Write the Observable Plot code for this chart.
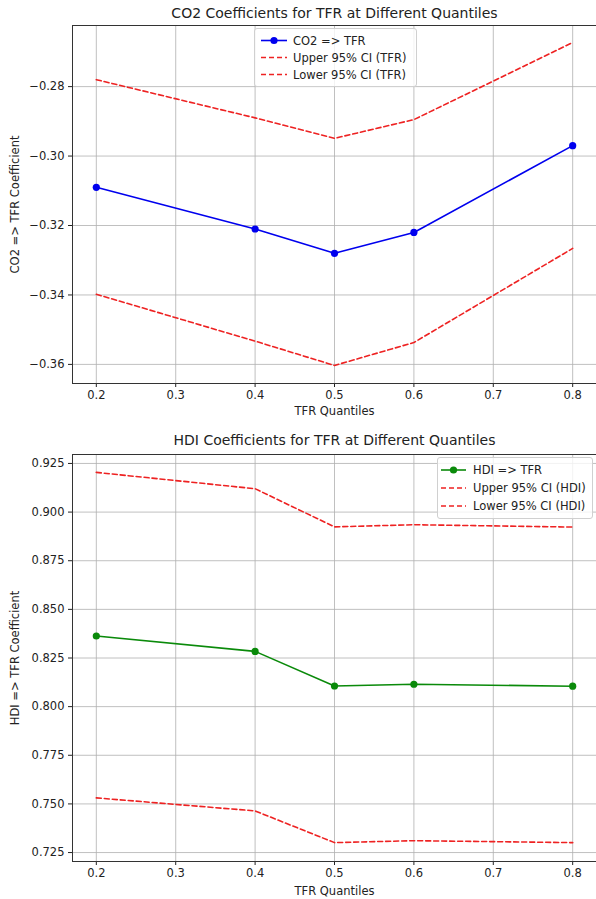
<!DOCTYPE html>
<html>
<head>
<meta charset="utf-8">
<script src="https://cdn.jsdelivr.net/npm/d3@7"></script>
<script src="https://cdn.jsdelivr.net/npm/@observablehq/plot@0.6"></script>
<style>
  html, body { margin: 0; padding: 0; background: #fff; overflow: hidden; }
  #wrap { position: relative; width: 596px; height: 899px; overflow: hidden; font-family: "DejaVu Sans", sans-serif; }
  .panel { position: absolute; left: 0; }
  .legend { position: absolute; box-sizing: border-box; border: 1px solid #d0d0d0; border-radius: 3px;
            background: rgba(255,255,255,0.8); font-size: 11.5px; color: #222; }
  .legend .row { display: flex; align-items: center; white-space: nowrap; }
  .legend svg { flex: none; }
</style>
</head>
<body>
<div id="wrap"></div>
<script>
// ---- data ----
const quantiles = [0.2, 0.4, 0.5, 0.6, 0.8];
const xTicks = [0.2, 0.3, 0.4, 0.5, 0.6, 0.7, 0.8];

const co2Coef  = [-0.309, -0.321, -0.328, -0.322, -0.297];
const co2Upper = [-0.278, -0.289, -0.2949, -0.2895, -0.2673];
const co2Lower = [-0.3398, -0.3533, -0.3603, -0.3537, -0.3266];
const co2Ticks = [-0.36, -0.34, -0.32, -0.30, -0.28];

const hdiCoef  = [0.8363, 0.8284, 0.8106, 0.8115, 0.8105];
const hdiUpper = [0.9204, 0.9120, 0.8924, 0.8935, 0.8923];
const hdiLower = [0.7531, 0.7464, 0.7301, 0.7311, 0.7301];
const hdiTicks = [0.725, 0.750, 0.775, 0.800, 0.825, 0.850, 0.875, 0.900, 0.925];

const co2Title = "CO2 Coefficients for TFR at Different Quantiles";
const hdiTitle = "HDI Coefficients for TFR at Different Quantiles";
const xLabel = "TFR Quantiles";
const co2YLabel = "CO2 => TFR Coefficient";
const hdiYLabel = "HDI => TFR Coefficient";
const co2Legend = ["CO2 => TFR", "Upper 95% CI (TFR)", "Lower 95% CI (TFR)"];
const hdiLegend = ["HDI => TFR", "Upper 95% CI (HDI)", "Lower 95% CI (HDI)"];

const xDomain = [0.17, 0.83];
const rows = vals => quantiles.map((q, i) => ({q, v: vals[i]}));

function panel({coef, upper, lower, ticks, fmt, domain, color, title, yLabel, height, marginTop, marginBottom, titleDy, xLabelDy}) {
  const grid = {stroke: "#b0b0b0", strokeOpacity: 1, strokeWidth: 0.8};
  const edge = {stroke: "#333", strokeWidth: 1};
  return Plot.plot({
    width: 596, height, marginLeft: 72, marginRight: 0, marginTop, marginBottom,
    style: {fontFamily: "DejaVu Sans", fontSize: "11.5px", color: "#222", background: "white", overflow: "visible"},
    x: {domain: xDomain, ticks: xTicks, tickFormat: d3.format(".1f"), tickSize: 4, tickPadding: 3, label: null},
    y: {domain, ticks, tickFormat: d3.format(fmt), tickSize: 4, tickPadding: 4, label: null},
    marks: [
      Plot.gridX(xTicks, grid),
      Plot.gridY(ticks, grid),
      Plot.line(rows(upper), {x: "q", y: "v", stroke: "#ee2222", strokeWidth: 1.6, strokeDasharray: "5,3"}),
      Plot.line(rows(lower), {x: "q", y: "v", stroke: "#ee2222", strokeWidth: 1.6, strokeDasharray: "5,3"}),
      Plot.line(rows(coef), {x: "q", y: "v", stroke: color, strokeWidth: 1.6}),
      Plot.dot(rows(coef), {x: "q", y: "v", r: 3.6, fill: color}),
      Plot.ruleX([xDomain[0]], edge),
      Plot.ruleY(domain, edge),
      Plot.text([title], {frameAnchor: "top", lineAnchor: "middle", textAnchor: "middle", dy: titleDy, fontSize: 14, fill: "#222"}),
      Plot.text([xLabel], {frameAnchor: "bottom", lineAnchor: "middle", textAnchor: "middle", dx: 0, dy: xLabelDy, fill: "#222"}),
      Plot.text([yLabel], {frameAnchor: "left", lineAnchor: "middle", textAnchor: "middle", dx: -57, rotate: -90, fill: "#222"})
    ]
  });
}

const wrap = document.getElementById("wrap");

const p1 = panel({coef: co2Coef, upper: co2Upper, lower: co2Lower, ticks: co2Ticks, fmt: ".2f",
  domain: [-0.3655, -0.2624], color: "#0000ee", title: co2Title, yLabel: co2YLabel,
  height: 430, marginTop: 25, marginBottom: 47, titleDy: -12, xLabelDy: 28});
p1.classList.add("panel"); p1.style.top = "0px";
wrap.appendChild(p1);

const p2 = panel({coef: hdiCoef, upper: hdiUpper, lower: hdiLower, ticks: hdiTicks, fmt: ".3f",
  domain: [0.7204, 0.9296], color: "#0a8a0a", title: hdiTitle, yLabel: hdiYLabel,
  height: 469, marginTop: 24, marginBottom: 38, titleDy: -14, xLabelDy: 30});
p2.classList.add("panel"); p2.style.top = "430px";
wrap.appendChild(p2);

function legend(labels, color, {left, top, width, rowH, lineX0, lineX1, textX}) {
  const box = document.createElement("div");
  box.className = "legend";
  Object.assign(box.style, {left: left + "px", top: top + "px", width: width + "px", paddingTop: "3px", paddingBottom: "3px"});
  labels.forEach((lab, i) => {
    const row = document.createElement("div");
    row.className = "row";
    row.style.height = rowH + "px";
    const ns = "http://www.w3.org/2000/svg";
    const svg = document.createElementNS(ns, "svg");
    svg.setAttribute("width", textX);
    svg.setAttribute("height", rowH);
    const ln = document.createElementNS(ns, "line");
    ln.setAttribute("x1", lineX0); ln.setAttribute("x2", lineX1);
    ln.setAttribute("y1", rowH / 2); ln.setAttribute("y2", rowH / 2);
    ln.setAttribute("stroke-width", 1.6);
    if (i === 0) {
      ln.setAttribute("stroke", color);
      svg.appendChild(ln);
      const c = document.createElementNS(ns, "circle");
      c.setAttribute("cx", (lineX0 + lineX1) / 2); c.setAttribute("cy", rowH / 2);
      c.setAttribute("r", 3.6); c.setAttribute("fill", color);
      svg.appendChild(c);
    } else {
      ln.setAttribute("stroke", "#ee2222");
      ln.setAttribute("stroke-dasharray", "5,3");
      svg.appendChild(ln);
    }
    row.appendChild(svg);
    const t = document.createElement("span");
    t.textContent = lab;
    row.appendChild(t);
    box.appendChild(row);
  });
  wrap.appendChild(box);
}

legend(co2Legend, "#0000ee", {left: 254, top: 28, width: 163, rowH: 17, lineX0: 6, lineX1: 32, textX: 38});
legend(hdiLegend, "#0a8a0a", {left: 437, top: 457, width: 156, rowH: 18, lineX0: 3, lineX1: 28, textX: 35});
</script>
</body>
</html>
